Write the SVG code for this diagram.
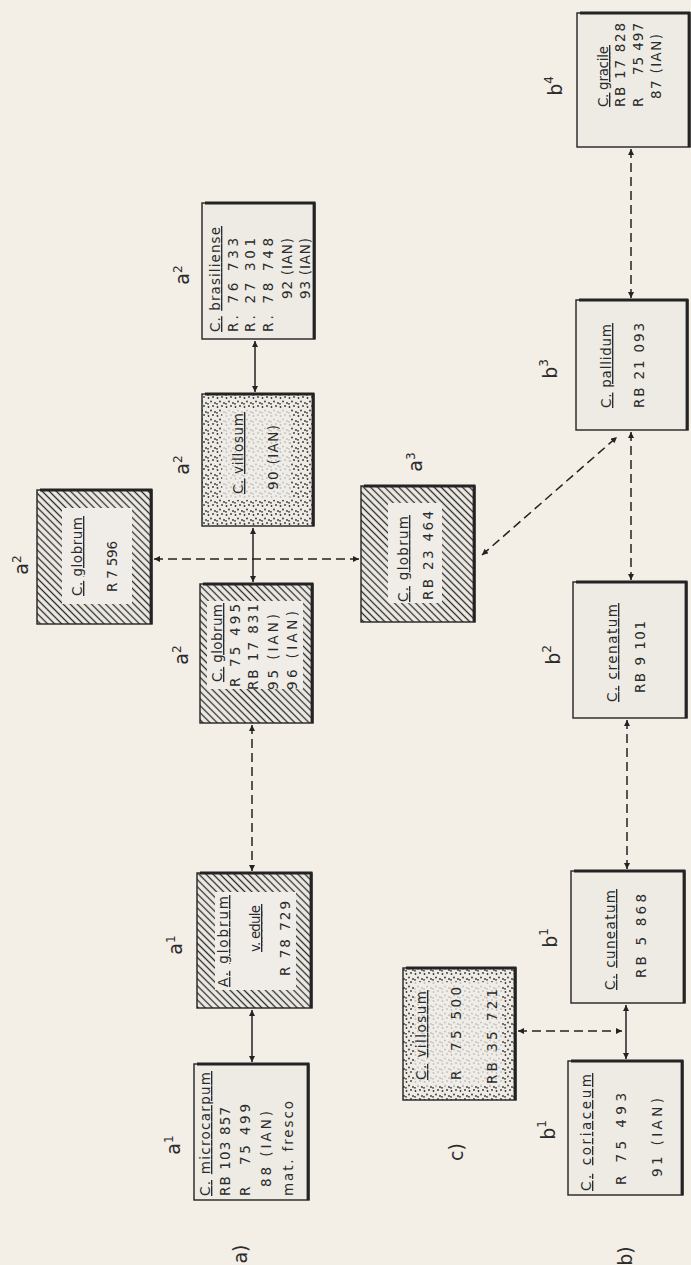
<svg xmlns="http://www.w3.org/2000/svg" width="691" height="1265" viewBox="0 0 691 1265">
<style>
.bg{fill:#f3eee6}
.box{fill:#eeebe5;stroke:none}
.bd{fill:none;stroke:#232323;stroke-width:1.4}
.sh{fill:none;stroke:#232323;stroke-width:2.8}
.hat{fill:url(#hatch)}
.dot{fill:url(#dots)}
.clr{fill:#f0ede8}
.t{font-family:"DejaVu Sans","Liberation Sans",sans-serif;font-size:13.5px;letter-spacing:1px;fill:#2b2b2b}
.u{text-decoration:underline}
.lab{font-family:"DejaVu Sans","Liberation Sans",sans-serif;font-size:19px;fill:#2b2b2b}
.sup{font-size:12px}
.sol{stroke:#232323;stroke-width:1.5;fill:none;marker-start:url(#ah);marker-end:url(#ah)}
.das{stroke:#232323;stroke-width:1.5;fill:none;stroke-dasharray:9 5;marker-start:url(#ah);marker-end:url(#ah)}
</style>
<defs>
<pattern id="hatch" patternUnits="userSpaceOnUse" width="5" height="5" patternTransform="rotate(-45)">
<line x1="2.5" y1="0" x2="2.5" y2="5" stroke="#2a2a2a" stroke-width="1.3"/>
</pattern>
<pattern id="dots" patternUnits="userSpaceOnUse" width="9" height="9">
<circle cx="1.5" cy="2" r="0.9" fill="#333"/>
<circle cx="6" cy="1" r="0.9" fill="#333"/>
<circle cx="4" cy="5.5" r="0.9" fill="#333"/>
<circle cx="8" cy="7" r="0.9" fill="#333"/>
<circle cx="1" cy="7.8" r="0.9" fill="#333"/>
</pattern>
<marker id="ah" viewBox="0 0 10 10" refX="10" refY="5" markerWidth="7" markerHeight="6" markerUnits="userSpaceOnUse" orient="auto-start-reverse">
<path d="M0,0 L10,5 L0,10 z" fill="#232323"/>
</marker>
</defs>
<rect class="bg" x="0" y="0" width="691" height="1265"/>

<g id="connectors">
<line class="sol" x1="255" y1="341" x2="255" y2="392"/>
<line class="sol" x1="253" y1="528" x2="253" y2="582"/>
<line class="das" x1="154" y1="559" x2="359" y2="559"/>
<line class="das" x1="482" y1="555" x2="617" y2="437"/>
<line class="das" x1="631" y1="149" x2="631" y2="298"/>
<line class="das" x1="631" y1="432" x2="631" y2="580"/>
<line class="das" x1="627" y1="720" x2="627" y2="869"/>
<line class="sol" x1="626" y1="1005" x2="626" y2="1059"/>
<line class="das" x1="518" y1="1031" x2="622" y2="1031"/>
<line class="das" x1="252" y1="725" x2="252" y2="871"/>
<line class="sol" x1="252" y1="1010" x2="252" y2="1062"/>
</g>

<g id="n-gracile">
<rect class="box" x="577" y="13" width="113" height="134"/>
<rect class="bd" x="577" y="13" width="113" height="134"/>
<polyline class="sh" points="580,13 689,13 689,147"/>
<g transform="translate(577,147) rotate(-90)">
<text class="t" x="40" y="31" textLength="62" lengthAdjust="spacing"><tspan class="u">C.</tspan> <tspan class="u">gracile</tspan></text>
<text class="t" x="40" y="48" textLength="85" lengthAdjust="spacing">RB 17 828</text>
<text class="t" x="40" y="66">R</text><text class="t" x="72" y="66" textLength="53" lengthAdjust="spacing">75 497</text>
<text class="t" x="48" y="84" textLength="66" lengthAdjust="spacing">87 (IAN)</text>
</g>
</g>

<g id="n-pallidum">
<rect class="box" x="576" y="300" width="112" height="130"/>
<rect class="bd" x="576" y="300" width="112" height="130"/>
<polyline class="sh" points="579,300 687,300 687,430"/>
<g transform="translate(576,430) rotate(-90)">
<text class="t" x="22" y="35" textLength="85" lengthAdjust="spacing"><tspan class="u">C.</tspan> <tspan class="u">pallidum</tspan></text>
<text class="t" x="22" y="68" textLength="86" lengthAdjust="spacing">RB 21 093</text>
</g>
</g>

<g id="n-crenatum">
<rect class="box" x="573" y="582" width="114" height="136"/>
<rect class="bd" x="573" y="582" width="114" height="136"/>
<polyline class="sh" points="576,582 686,582 686,718"/>
<g transform="translate(573,718) rotate(-90)">
<text class="t" x="16" y="44" textLength="99" lengthAdjust="spacing"><tspan class="u">C.</tspan> <tspan class="u">crenatum</tspan></text>
<text class="t" x="25" y="72" textLength="73" lengthAdjust="spacing">RB 9 101</text>
</g>
</g>

<g id="n-cuneatum">
<rect class="box" x="571" y="871" width="114" height="132"/>
<rect class="bd" x="571" y="871" width="114" height="132"/>
<polyline class="sh" points="574,871 684,871 684,1003"/>
<g transform="translate(571,1003) rotate(-90)">
<text class="t" x="13" y="44" textLength="101" lengthAdjust="spacing"><tspan class="u">C.</tspan> <tspan class="u">cuneatum</tspan></text>
<text class="t" x="25" y="75" textLength="85" lengthAdjust="spacing">RB 5 868</text>
</g>
</g>

<g id="n-coriaceum">
<rect class="box" x="568" y="1061" width="115" height="134"/>
<rect class="bd" x="568" y="1061" width="115" height="134"/>
<polyline class="sh" points="571,1061 682,1061 682,1195"/>
<g transform="translate(568,1195) rotate(-90)">
<text class="t" x="4" y="23" textLength="118" lengthAdjust="spacing"><tspan class="u">C.</tspan> <tspan class="u">coriaceum</tspan></text>
<text class="t" x="10" y="58" textLength="93" lengthAdjust="spacing">R 75 493</text>
<text class="t" x="18" y="94" textLength="80" lengthAdjust="spacing">91 (IAN)</text>
</g>
</g>

<g id="n-villosum-c">
<rect class="box" x="403" y="968" width="113" height="132"/>
<rect class="dot" x="403" y="968" width="113" height="132"/>
<rect class="clr" x="414" y="982" width="88" height="104" opacity="0.75"/>
<rect class="bd" x="403" y="968" width="113" height="132"/>
<polyline class="sh" points="406,968 515,968 515,1100"/>
<g transform="translate(403,1100) rotate(-90)">
<text class="t" x="20" y="23" textLength="90" lengthAdjust="spacing"><tspan class="u">C.</tspan> <tspan class="u">villosum</tspan></text>
<text class="t" x="20" y="58">R</text><text class="t" x="49" y="58" textLength="65" lengthAdjust="spacing">75 500</text>
<text class="t" x="16" y="94" textLength="96" lengthAdjust="spacing">RB 35 721</text>
</g>
</g>

<g id="n-microcarpum">
<rect class="box" x="194" y="1064" width="115" height="136"/>
<rect class="bd" x="194" y="1064" width="115" height="136"/>
<polyline class="sh" points="197,1064 308,1064 308,1200"/>
<g transform="translate(194,1200) rotate(-90)">
<text class="t" x="4" y="16" textLength="125" lengthAdjust="spacing"><tspan class="u">C.</tspan> <tspan class="u">microcarpum</tspan></text>
<text class="t" x="4" y="36" textLength="90" lengthAdjust="spacing">RB 103 857</text>
<text class="t" x="4" y="56">R</text><text class="t" x="35" y="56" textLength="62" lengthAdjust="spacing">75 499</text>
<text class="t" x="13" y="77" textLength="77" lengthAdjust="spacing">88 (IAN)</text>
<text class="t" x="4" y="99" textLength="96" lengthAdjust="spacing">mat. fresco</text>
</g>
</g>

<g id="n-aglobrum-edule">
<rect class="box" x="197" y="873" width="115" height="135"/>
<rect class="hat" x="197" y="873" width="115" height="135"/>
<rect class="clr" x="215" y="892" width="81" height="98"/>
<rect class="bd" x="197" y="873" width="115" height="135"/>
<polyline class="sh" points="200,873 311,873 311,1008"/>
<g transform="translate(197,1008) rotate(-90)">
<text class="t" x="21" y="31" textLength="92" lengthAdjust="spacing"><tspan class="u">A.</tspan> <tspan class="u">globrum</tspan></text>
<text class="t" x="56" y="63" textLength="48" lengthAdjust="spacing"><tspan class="u">v. edule</tspan></text>
<text class="t" x="32" y="93" textLength="76" lengthAdjust="spacing">R 78 729</text>
</g>
</g>

<g id="n-globrum-a2">
<rect class="box" x="200" y="584" width="113" height="139"/>
<rect class="hat" x="200" y="584" width="113" height="139"/>
<rect class="clr" x="207" y="601" width="96" height="88"/>
<rect class="bd" x="200" y="584" width="113" height="139"/>
<polyline class="sh" points="203,584 312,584 312,723"/>
<g transform="translate(200,723) rotate(-90)">
<text class="t" x="41" y="22" textLength="79" lengthAdjust="spacing"><tspan class="u">C.</tspan> <tspan class="u">globrum</tspan></text>
<text class="t" x="36" y="40" textLength="84" lengthAdjust="spacing">R 75 495</text>
<text class="t" x="33" y="58" textLength="87" lengthAdjust="spacing">RB 17 831</text>
<text class="t" x="33" y="78" textLength="77" lengthAdjust="spacing">95 (IAN)</text>
<text class="t" x="33" y="97" textLength="80" lengthAdjust="spacing">96 (IAN)</text>
</g>
</g>

<g id="n-globrum-r7596">
<rect class="box" x="37" y="490" width="115" height="134"/>
<rect class="hat" x="37" y="490" width="115" height="134"/>
<rect class="clr" x="62" y="508" width="70" height="96"/>
<rect class="bd" x="37" y="490" width="115" height="134"/>
<polyline class="sh" points="40,490 151,490 151,624"/>
<g transform="translate(37,624) rotate(-90)">
<text class="t" x="28" y="45" textLength="80" lengthAdjust="spacing"><tspan class="u">C.</tspan> <tspan class="u">globrum</tspan></text>
<text class="t" x="32" y="80" textLength="52" lengthAdjust="spacing">R 7 596</text>
</g>
</g>

<g id="n-villosum-a2">
<rect class="box" x="202" y="394" width="112" height="132"/>
<rect class="dot" x="202" y="394" width="112" height="132"/>
<rect class="clr" x="222" y="408" width="68" height="92" opacity="0.75"/>
<rect class="bd" x="202" y="394" width="112" height="132"/>
<polyline class="sh" points="205,394 313,394 313,526"/>
<g transform="translate(202,526) rotate(-90)">
<text class="t" x="32" y="41" textLength="82" lengthAdjust="spacing"><tspan class="u">C.</tspan> <tspan class="u">villosum</tspan></text>
<text class="t" x="36" y="76" textLength="66" lengthAdjust="spacing">90 (IAN)</text>
</g>
</g>

<g id="n-brasiliense">
<rect class="box" x="202" y="203" width="113" height="136"/>
<rect class="bd" x="202" y="203" width="113" height="136"/>
<polyline class="sh" points="205,203 314,203 314,339"/>
<g transform="translate(202,339) rotate(-90)">
<text class="t" x="7" y="18" textLength="106" lengthAdjust="spacing"><tspan class="u">C.</tspan> <tspan class="u">brasiliense</tspan></text>
<text class="t" x="7" y="36" textLength="95" lengthAdjust="spacing">R. 76 733</text>
<text class="t" x="7" y="53" textLength="95" lengthAdjust="spacing">R. 27 301</text>
<text class="t" x="7" y="71" textLength="95" lengthAdjust="spacing">R. 78 748</text>
<text class="t" x="40" y="90" textLength="62" lengthAdjust="spacing">92 (IAN)</text>
<text class="t" x="40" y="108" textLength="62" lengthAdjust="spacing">93 (IAN)</text>
</g>
</g>

<g id="n-globrum-a3">
<rect class="box" x="361" y="486" width="114" height="136"/>
<rect class="hat" x="361" y="486" width="114" height="136"/>
<rect class="clr" x="388" y="503" width="54" height="100"/>
<rect class="bd" x="361" y="486" width="114" height="136"/>
<polyline class="sh" points="364,486 474,486 474,622"/>
<g transform="translate(361,622) rotate(-90)">
<text class="t" x="20" y="47" textLength="87" lengthAdjust="spacing"><tspan class="u">C.</tspan> <tspan class="u">globrum</tspan></text>
<text class="t" x="22" y="72" textLength="90" lengthAdjust="spacing">RB 23 464</text>
</g>
</g>

<g id="labels">
<text class="lab" text-anchor="middle" transform="translate(180,1145) rotate(-90)">a<tspan class="sup" dy="-7">1</tspan></text>
<text class="lab" text-anchor="middle" transform="translate(182,945) rotate(-90)">a<tspan class="sup" dy="-7">1</tspan></text>
<text class="lab" text-anchor="middle" transform="translate(188,655) rotate(-90)">a<tspan class="sup" dy="-7">2</tspan></text>
<text class="lab" text-anchor="middle" transform="translate(189,465) rotate(-90)">a<tspan class="sup" dy="-7">2</tspan></text>
<text class="lab" text-anchor="middle" transform="translate(189,275) rotate(-90)">a<tspan class="sup" dy="-7">2</tspan></text>
<text class="lab" text-anchor="middle" transform="translate(28,565) rotate(-90)">a<tspan class="sup" dy="-7">2</tspan></text>
<text class="lab" text-anchor="middle" transform="translate(422,462) rotate(-90)">a<tspan class="sup" dy="-7">3</tspan></text>
<text class="lab" text-anchor="middle" transform="translate(562,86) rotate(-90)">b<tspan class="sup" dy="-9">4</tspan></text>
<text class="lab" text-anchor="middle" transform="translate(557,369) rotate(-90)">b<tspan class="sup" dy="-9">3</tspan></text>
<text class="lab" text-anchor="middle" transform="translate(560,655) rotate(-90)">b<tspan class="sup" dy="-9">2</tspan></text>
<text class="lab" text-anchor="middle" transform="translate(557,938) rotate(-90)">b<tspan class="sup" dy="-9">1</tspan></text>
<text class="lab" text-anchor="middle" transform="translate(555,1130) rotate(-90)">b<tspan class="sup" dy="-9">1</tspan></text>
<text class="lab" text-anchor="middle" transform="translate(247,1254) rotate(-90)">a)</text>
<text class="lab" text-anchor="middle" transform="translate(463,1152) rotate(-90)">c)</text>
<text class="lab" text-anchor="middle" transform="translate(632,1256) rotate(-90)">b)</text>
</g>
</svg>
